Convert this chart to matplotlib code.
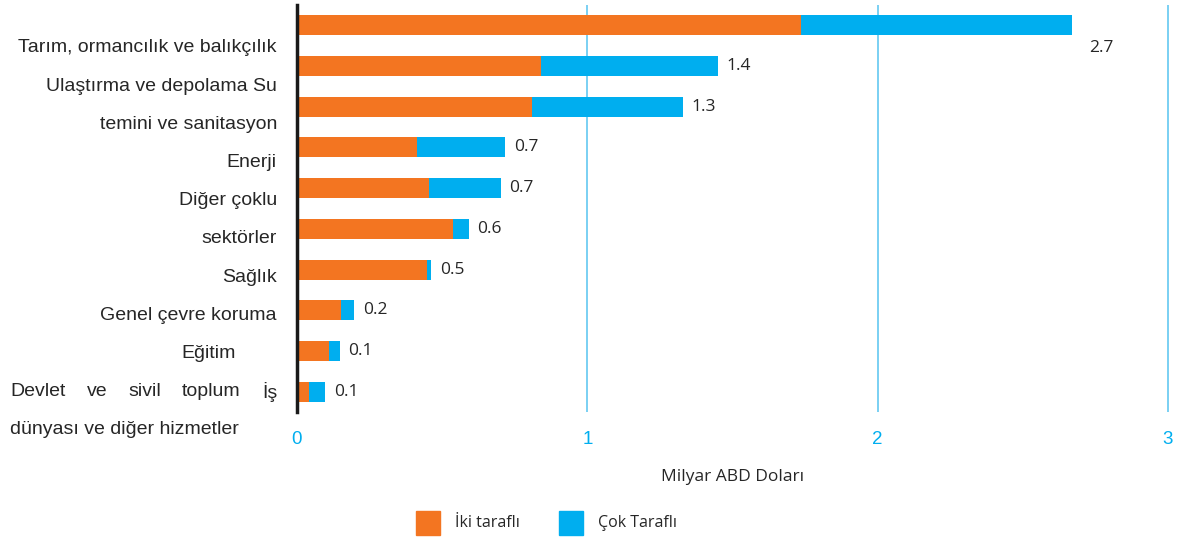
import matplotlib
matplotlib.use("Agg")
import matplotlib.pyplot as plt
from matplotlib.patches import Rectangle

# Sectors, top to bottom
categories = [
    "Tarım, ormancılık ve balıkçılık",
    "Ulaştırma ve depolama",
    "Su temini ve sanitasyon",
    "Enerji",
    "Diğer çoklu sektörler",
    "Sağlık",
    "Genel çevre koruma",
    "Eğitim",
    "Devlet ve sivil toplum",
    "İş dünyası ve diğer hizmetler",
]
# Billion USD
bilateral = [1.735, 0.839, 0.811, 0.414, 0.455, 0.536, 0.448, 0.153, 0.111, 0.040]
multilateral = [0.936, 0.610, 0.520, 0.304, 0.246, 0.055, 0.015, 0.045, 0.037, 0.058]

# Category names as they are set in the left column
label_lines = [
    "Tarım, ormancılık ve balıkçılık",
    "Ulaştırma ve depolama Su",
    "temini ve sanitasyon",
    "Enerji",
    "Diğer çoklu",
    "sektörler",
    "Sağlık",
    "Genel çevre koruma",
    "Eğitim",
    "Devlet ve sivil toplum İş",
    "dünyası ve diğer hizmetler",
]
x_ticks = [0, 1, 2, 3]
x_label = "Milyar ABD Doları"
series_names = ["İki taraflı", "Çok Taraflı"]

ORANGE = "#f37521"
BLUE = "#00aeef"
GRID = "#6fcdf2"
TEXT = "#262626"

W, H = 1184, 538
fig = plt.figure(figsize=(W / 100, H / 100), dpi=100)

def fx(px):
    return px / W

def fy(py):
    return 1 - py / H

XMAX = 3.02
unit_px = (1168 - 297) / 3
ax = fig.add_axes([fx(297), fy(412), fx(XMAX * unit_px), fy(5) - fy(412)])

n = len(categories)
ypos = list(range(n))
totals = [b + m for b, m in zip(bilateral, multilateral)]
ax.barh(ypos, bilateral, height=0.49, color=ORANGE, zorder=3)
ax.barh(ypos, multilateral, left=bilateral, height=0.49, color=BLUE, zorder=3)
ax.set_ylim(n - 0.5, -0.5)
ax.set_xlim(0, XMAX)

val_kw = dict(ha="left", va="center", fontsize=12.5, family="Open Sans",
              color=TEXT, textcoords="offset points")
for i, t in enumerate(totals):
    offset = (12, -16) if i == 0 else (6, 0)
    ax.annotate(f"{t:.1f}", (t, i), xytext=offset, **val_kw)

ax.set_xticks(x_ticks)
ax.set_xticklabels([str(v) for v in x_ticks], color=BLUE, fontsize=13.5,
                   family="Liberation Sans")
ax.tick_params(axis="x", length=0, pad=14)
ax.set_yticks([])
ax.grid(axis="x", color=GRID, linewidth=1.3, zorder=0)
for s in ["top", "right", "bottom"]:
    ax.spines[s].set_visible(False)
ax.spines["left"].set_linewidth(2.5)
ax.spines["left"].set_color("#1a1a1a")
ax.spines["left"].set_zorder(4)

fig.text(fx(733), fy(477), x_label, ha="center", va="center", fontsize=12.5,
         family="Open Sans", color=TEXT)

# Left column of sector names
lab_kw = dict(fontsize=14, family="Liberation Sans", color=TEXT, va="center")
line_y = [48 + i * 38.2 for i in range(len(label_lines))]
fig.canvas.draw()
renderer = fig.canvas.get_renderer()
for line, y in zip(label_lines, line_y):
    if line == "Eğitim":
        fig.text(fx(236), fy(y), line, ha="right", **lab_kw)
    elif line.startswith("dünyası"):
        fig.text(fx(10), fy(y), line, ha="left", **lab_kw)
    elif line.startswith("Devlet"):
        words = line.split()
        widths = []
        for w in words:
            t = fig.text(0, 0, w, **lab_kw)
            widths.append(t.get_window_extent(renderer).width)
            t.remove()
        gap = (277 - 10 - sum(widths)) / (len(words) - 1)
        x = 10
        for w, wd in zip(words, widths):
            fig.text(fx(x), fy(y), w, ha="left", **lab_kw)
            x += wd + gap
    else:
        fig.text(fx(277), fy(y), line, ha="right", **lab_kw)

# Legend
for color, name, x0 in zip([ORANGE, BLUE], series_names, [416, 559]):
    fig.patches.append(Rectangle((fx(x0), fy(535)), fx(24), fy(511) - fy(535),
                                 transform=fig.transFigure, color=color))
    fig.text(fx(x0 + 39), fy(523), name, ha="left", va="center", fontsize=11.5,
             family="Open Sans", color=TEXT)

fig.savefig("out.png", dpi=100, facecolor="white")
